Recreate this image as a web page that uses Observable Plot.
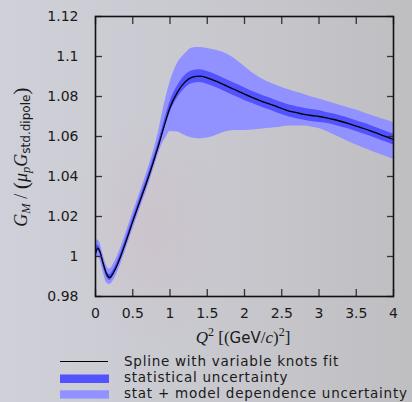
<!DOCTYPE html>
<html><head><meta charset="utf-8">
<script src="https://cdn.jsdelivr.net/npm/d3@7"></script>
<script src="https://cdn.jsdelivr.net/npm/@observablehq/plot@0.6"></script>
<style>
html,body{margin:0;padding:0;width:412px;height:402px;overflow:hidden;}
body{background:
  radial-gradient(ellipse 110px 170px at 150px 230px, rgba(210,170,180,0.22), rgba(210,170,180,0) 70%),
  linear-gradient(90deg,#cfd0d9 0%,#c9c9d0 45%,#bfbfc2 100%);}
#chart svg{display:block;background:transparent;}
#legend{display:block;}
</style></head><body>
<div id="chart"></div>
<div id="legendWrap"></div>
<script>
// Q^2 grid [(GeV/c)^2]
const q2 = [0, 0.03, 0.06, 0.1, 0.15, 0.19, 0.25, 0.3, 0.35, 0.4, 0.5, 0.6, 0.7, 0.8, 0.85, 0.9, 0.95, 1.0,
  1.1, 1.2, 1.3, 1.4, 1.5, 1.6, 1.7, 1.8, 1.9, 2.0, 2.1, 2.2, 2.3, 2.4, 2.5, 2.6, 2.7, 2.8, 2.9, 3.0,
  3.1, 3.2, 3.3, 3.4, 3.5, 3.6, 3.7, 3.8, 3.9, 4.0];
// Spline with variable knots fit
const fit = [1.0013, 1.0042, 1.0025, 0.9970, 0.9912, 0.9895, 0.9925, 0.9965, 1.0013, 1.0065, 1.0175, 1.0280, 1.0385, 1.0500, 1.0560, 1.0625, 1.0688, 1.0745,
  1.0822, 1.0872, 1.0897, 1.0902, 1.0893, 1.0879, 1.0863, 1.0846, 1.0829, 1.0812, 1.0796, 1.0781, 1.0767, 1.0754, 1.0740, 1.0727, 1.0719, 1.0711, 1.0705, 1.0700,
  1.0693, 1.0685, 1.0675, 1.0664, 1.0652, 1.0640, 1.0627, 1.0613, 1.0599, 1.0585];
// statistical uncertainty (half width)
const statErr = [0.0015, 0.0015, 0.0015, 0.0015, 0.0015, 0.0015, 0.0015, 0.0015, 0.0015, 0.0015, 0.0015, 0.0016, 0.0017, 0.0018, 0.0019, 0.0021, 0.0024, 0.0027,
  0.0030, 0.0032, 0.0032, 0.0032, 0.0032, 0.0032, 0.0032, 0.0032, 0.0032, 0.0032, 0.0030, 0.0030, 0.0030, 0.0030, 0.0030, 0.0030, 0.0030, 0.0030, 0.0030, 0.0030,
  0.0027, 0.0027, 0.0027, 0.0027, 0.0027, 0.0027, 0.0027, 0.0027, 0.0027, 0.0027];
// stat + model dependence band
const totHi = [1.0055, 1.0084, 1.0067, 1.0012, 0.9954, 0.9937, 0.9967, 1.0007, 1.0055, 1.0107, 1.0217, 1.0322, 1.0432, 1.0555, 1.0630, 1.0720, 1.0800, 1.0870,
  1.0965, 1.1012, 1.1043, 1.1045, 1.1040, 1.1032, 1.1022, 1.1005, 1.0980, 1.0950, 1.0920, 1.0895, 1.0875, 1.0860, 1.0845, 1.0832, 1.0821, 1.0810, 1.0798, 1.0787,
  1.0776, 1.0765, 1.0754, 1.0743, 1.0732, 1.0719, 1.0706, 1.0694, 1.0682, 1.0670];
const totLo = [0.9973, 1.0000, 0.9983, 0.9928, 0.9868, 0.9860, 0.9885, 0.9925, 0.9973, 1.0025, 1.0135, 1.0240, 1.0345, 1.0460, 1.0518, 1.0565, 1.0597, 1.0625,
  1.0622, 1.0605, 1.0592, 1.0588, 1.0592, 1.0602, 1.0618, 1.0628, 1.0630, 1.0630, 1.0632, 1.0636, 1.0640, 1.0644, 1.0648, 1.0652, 1.0653, 1.0652, 1.0648, 1.0640,
  1.0626, 1.0609, 1.0591, 1.0574, 1.0557, 1.0542, 1.0528, 1.0514, 1.0500, 1.0485];

const xTicks = [0, 0.5, 1, 1.5, 2, 2.5, 3, 3.5, 4];
const yTicks = [0.98, 1.0, 1.02, 1.04, 1.06, 1.08, 1.1, 1.12];
const legendLabels = ["Spline with variable knots fit", "statistical uncertainty", "stat + model dependence uncertainty"];

const rows = q2.map((q, i) => ({q2: q, fit: fit[i], sLo: fit[i] - statErr[i], sHi: fit[i] + statErr[i], tLo: totLo[i], tHi: totHi[i]}));

const lightBlue = "#9191ff", darkBlue = "#5252ff";
const tickFont = "DejaVu Sans";
const fmt = d => String(+d.toFixed(2));

const chart = Plot.plot({
  width: 412, height: 350,
  marginLeft: 95, marginRight: 19, marginTop: 16, marginBottom: 54,
  style: {background: "transparent", fontFamily: tickFont, fontSize: "14px", color: "#1a1a1a"},
  x: {domain: [0, 4]},
  y: {domain: [0.98, 1.12]},
  marks: [
    Plot.areaY(rows, {x: "q2", y1: "tLo", y2: "tHi", fill: lightBlue, curve: "monotone-x"}),
    Plot.areaY(rows, {x: "q2", y1: "sLo", y2: "sHi", fill: darkBlue, curve: "monotone-x"}),
    Plot.lineY(rows, {x: "q2", y: "fit", stroke: "#000", strokeWidth: 1.3, curve: "monotone-x"}),
    Plot.axisX(xTicks, {anchor: "bottom", tickSize: -7, tickPadding: 19, tickFormat: fmt, label: null, stroke: "#333", strokeWidth: 1.3}),
    Plot.axisX(xTicks, {anchor: "top", tickSize: -7, tickFormat: () => "", label: null, stroke: "#333", strokeWidth: 1.3}),
    Plot.axisY(yTicks, {anchor: "left", tickSize: -7, tickPadding: 24, tickFormat: fmt, label: null, stroke: "#333", strokeWidth: 1.3}),
    Plot.axisY(yTicks, {anchor: "right", tickSize: -7, tickFormat: () => "", label: null, stroke: "#333", strokeWidth: 1.3}),
    Plot.frame({stroke: "#111", strokeWidth: 1.6})
  ]
});
document.getElementById("chart").appendChild(chart);

const svg = d3.select(chart);
const serif = "Liberation Serif";
// y-axis label
const yl = svg.append("text")
  .attr("transform", "translate(27,157) rotate(-90)")
  .attr("text-anchor", "middle")
  .attr("fill", "#1a1a1a")
  .attr("font-size", 18);
yl.append("tspan").attr("font-family", serif).attr("font-style", "italic").text("G");
yl.append("tspan").attr("font-family", serif).attr("font-style", "italic").attr("font-size", 12.5).attr("dy", 3).text("M");
yl.append("tspan").attr("font-family", serif).attr("dy", -3).text(" / ");
yl.append("tspan").attr("font-family", serif).attr("font-size", 22).attr("dy", 1).text("(");
yl.append("tspan").attr("font-family", serif).attr("font-style", "italic").attr("dy", -1).text("μ");
yl.append("tspan").attr("font-family", serif).attr("font-style", "italic").attr("font-size", 12.5).attr("dy", 3).text("p");
yl.append("tspan").attr("font-family", serif).attr("font-style", "italic").attr("dy", -3).text("G");
yl.append("tspan").attr("font-family", "DejaVu Sans").attr("font-size", 12).attr("dy", 3).text("std.dipole");
yl.append("tspan").attr("font-family", serif).attr("font-size", 22).attr("dy", -2).text(")");

// x-axis label
const xl = svg.append("text")
  .attr("x", 243).attr("y", 343)
  .attr("text-anchor", "middle")
  .attr("fill", "#1a1a1a")
  .attr("font-size", 17);
xl.append("tspan").attr("font-family", serif).attr("font-style", "italic").text("Q");
xl.append("tspan").attr("font-family", serif).attr("font-size", 12).attr("dy", -7).text("2");
xl.append("tspan").attr("font-family", serif).attr("dy", 7).text(" [(");
xl.append("tspan").attr("font-family", "DejaVu Sans").attr("font-size", 15).text("GeV");
xl.append("tspan").attr("font-family", serif).text("/");
xl.append("tspan").attr("font-family", serif).attr("font-style", "italic").text("c");
xl.append("tspan").attr("font-family", serif).text(")");
xl.append("tspan").attr("font-family", serif).attr("font-size", 12).attr("dy", -7).text("2");
xl.append("tspan").attr("font-family", serif).attr("dy", 7).text("]");

// legend below the plot
const lg = d3.select("#legendWrap").append("svg").attr("id", "legend").attr("width", 412).attr("height", 52);
lg.append("line").attr("x1", 60).attr("x2", 108).attr("y1", 11.5).attr("y2", 11.5).attr("stroke", "#000").attr("stroke-width", 1);
lg.append("rect").attr("x", 60).attr("y", 24.5).attr("width", 49).attr("height", 8.5).attr("fill", darkBlue);
lg.append("rect").attr("x", 60).attr("y", 40.3).attr("width", 49).attr("height", 8.3).attr("fill", lightBlue);
legendLabels.forEach((t, i) => {
  lg.append("text").attr("x", 124).attr("y", 15.5 + i * 16).attr("font-family", "DejaVu Sans").attr("font-size", 13.5)
    .attr("letter-spacing", 0.75).attr("fill", "#1a1a1a").text(t);
});
</script>
</body></html>
